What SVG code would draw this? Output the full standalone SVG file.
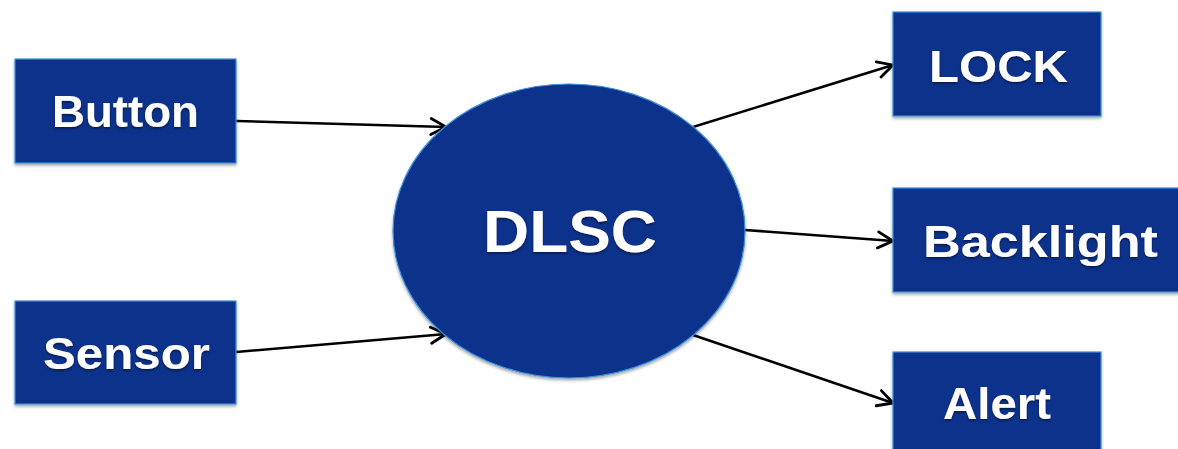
<svg xmlns="http://www.w3.org/2000/svg" width="1178" height="449" viewBox="0 0 1178 449">
<defs>
<filter id="sh" x="-10%" y="-10%" width="120%" height="125%">
<feDropShadow dx="0" dy="2" stdDeviation="1.5" flood-color="#000" flood-opacity="0.35"/>
</filter>
<filter id="tsh" x="-10%" y="-20%" width="120%" height="150%">
<feDropShadow dx="0" dy="1.5" stdDeviation="1" flood-color="#000" flood-opacity="0.5"/>
</filter>
<marker id="arr" markerUnits="userSpaceOnUse" viewBox="0 0 20 20" markerWidth="20" markerHeight="20" refX="17" refY="10" orient="auto">
<path d="M2,2 L17,10 L2,18" fill="none" stroke="#000" stroke-width="2.8" stroke-linecap="round" stroke-linejoin="round"/>
</marker>
</defs>
<style>
.box{fill:#0c308c;stroke:#3d8fd8;stroke-width:1.2;filter:url(#sh)}
.lbl{fill:#fff;font-family:"Liberation Sans",Arial,sans-serif;font-weight:bold;font-size:44px;text-anchor:middle;filter:url(#tsh)}
.edge{fill:none;stroke:#000;stroke-width:2.6;marker-end:url(#arr)}
</style>
<rect width="1178" height="449" fill="#fff"/>
<g id="connectors">
<line class="edge" x1="236" y1="121" x2="446" y2="127"/>
<line class="edge" x1="236" y1="352" x2="446" y2="334"/>
<line class="edge" x1="693" y1="127" x2="893" y2="65"/>
<line class="edge" x1="745" y1="230" x2="893" y2="241"/>
<line class="edge" x1="693" y1="335" x2="893" y2="403"/>
</g>
<g id="button">
<rect class="box" x="15" y="59" width="221" height="104"/>
<text class="lbl" x="125.5" y="127" textLength="147" lengthAdjust="spacingAndGlyphs">Button</text>
</g>
<g id="sensor">
<rect class="box" x="15" y="301" width="221" height="103"/>
<text class="lbl" x="126.5" y="369" textLength="167" lengthAdjust="spacingAndGlyphs">Sensor</text>
</g>
<g id="dlsc">
<ellipse class="box" cx="569" cy="231" rx="176" ry="147"/>
<text class="lbl" x="570" y="252" textLength="174" lengthAdjust="spacingAndGlyphs" style="font-size:59px">DLSC</text>
</g>
<g id="lock">
<rect class="box" x="893" y="12" width="208" height="104"/>
<text class="lbl" x="998.5" y="82" textLength="139" lengthAdjust="spacingAndGlyphs">LOCK</text>
</g>
<g id="backlight">
<rect class="box" x="893" y="188" width="295" height="104"/>
<text class="lbl" x="1040.5" y="257" textLength="235" lengthAdjust="spacingAndGlyphs">Backlight</text>
</g>
<g id="alert">
<rect class="box" x="893" y="352" width="208" height="104"/>
<text class="lbl" x="997" y="419" textLength="108" lengthAdjust="spacingAndGlyphs">Alert</text>
</g>
</svg>
